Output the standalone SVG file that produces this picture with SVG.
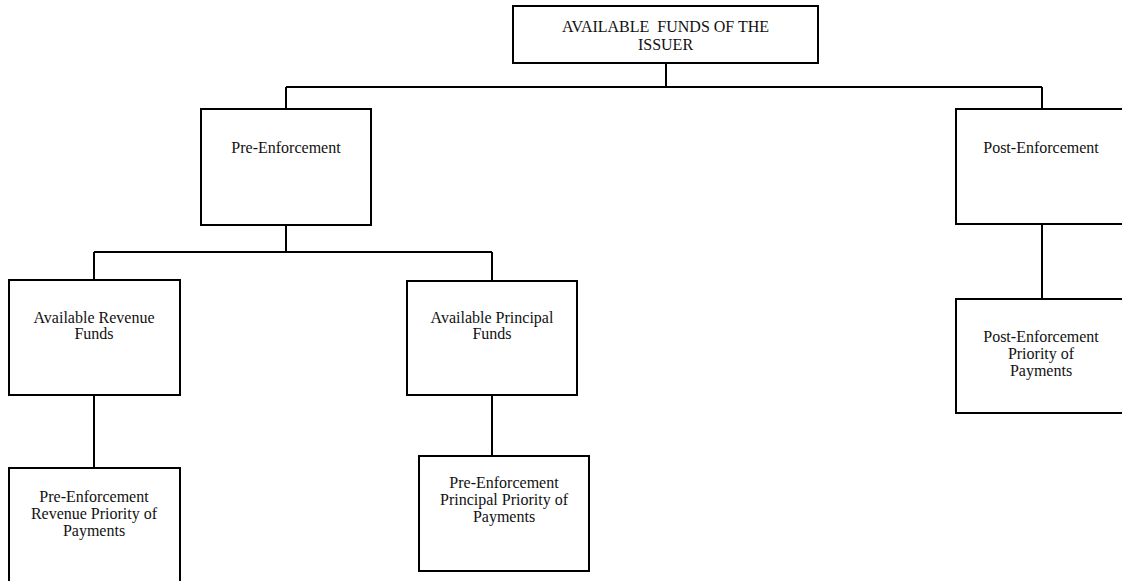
<svg xmlns="http://www.w3.org/2000/svg" width="1122" height="581" viewBox="0 0 1122 581">
<style>
.box{fill:#fff;stroke:#000;stroke-width:2}
.c{fill:none;stroke:#000;stroke-width:2}
text{font-family:"Liberation Serif","Times New Roman",serif;font-size:16px;fill:#111;text-anchor:middle}
</style>
<rect width="1122" height="581" fill="#fff"/>
<g id="connectors">
<path class="c" d="M666 63V87M286 87H1042M286 87V109M1042 87V109"/>
<path class="c" d="M286 225V252M94 252H492M94 252V280M492 252V281"/>
<path class="c" d="M94 395V468"/>
<path class="c" d="M492 395V456"/>
<path class="c" d="M1042 224V299"/>
</g>
<g id="n-top">
<rect class="box" x="513" y="6" width="305" height="57"/>
<text x="665.5" y="32" xml:space="preserve">AVAILABLE  FUNDS OF THE</text>
<text x="665.5" y="50">ISSUER</text>
</g>
<g id="n-pre">
<rect class="box" x="201" y="109" width="170" height="116"/>
<text x="286" y="153">Pre-Enforcement</text>
</g>
<g id="n-post">
<rect class="box" x="956" y="109" width="171" height="115"/>
<text x="1041" y="153">Post-Enforcement</text>
</g>
<g id="n-revenue">
<rect class="box" x="9" y="280" width="171" height="115"/>
<text x="94" y="323">Available Revenue</text>
<text x="94" y="339">Funds</text>
</g>
<g id="n-principal">
<rect class="box" x="407" y="281" width="170" height="114"/>
<text x="492" y="323">Available Principal</text>
<text x="492" y="339">Funds</text>
</g>
<g id="n-rev-pop">
<rect class="box" x="9" y="468" width="171" height="116"/>
<text x="94" y="502">Pre-Enforcement</text>
<text x="94" y="519">Revenue Priority of</text>
<text x="94" y="536">Payments</text>
</g>
<g id="n-prin-pop">
<rect class="box" x="419" y="456" width="170" height="115"/>
<text x="504" y="488">Pre-Enforcement</text>
<text x="504" y="505">Principal Priority of</text>
<text x="504" y="522">Payments</text>
</g>
<g id="n-post-pop">
<rect class="box" x="956" y="299" width="171" height="114"/>
<text x="1041" y="342">Post-Enforcement</text>
<text x="1041" y="359">Priority of</text>
<text x="1041" y="376">Payments</text>
</g>
</svg>
